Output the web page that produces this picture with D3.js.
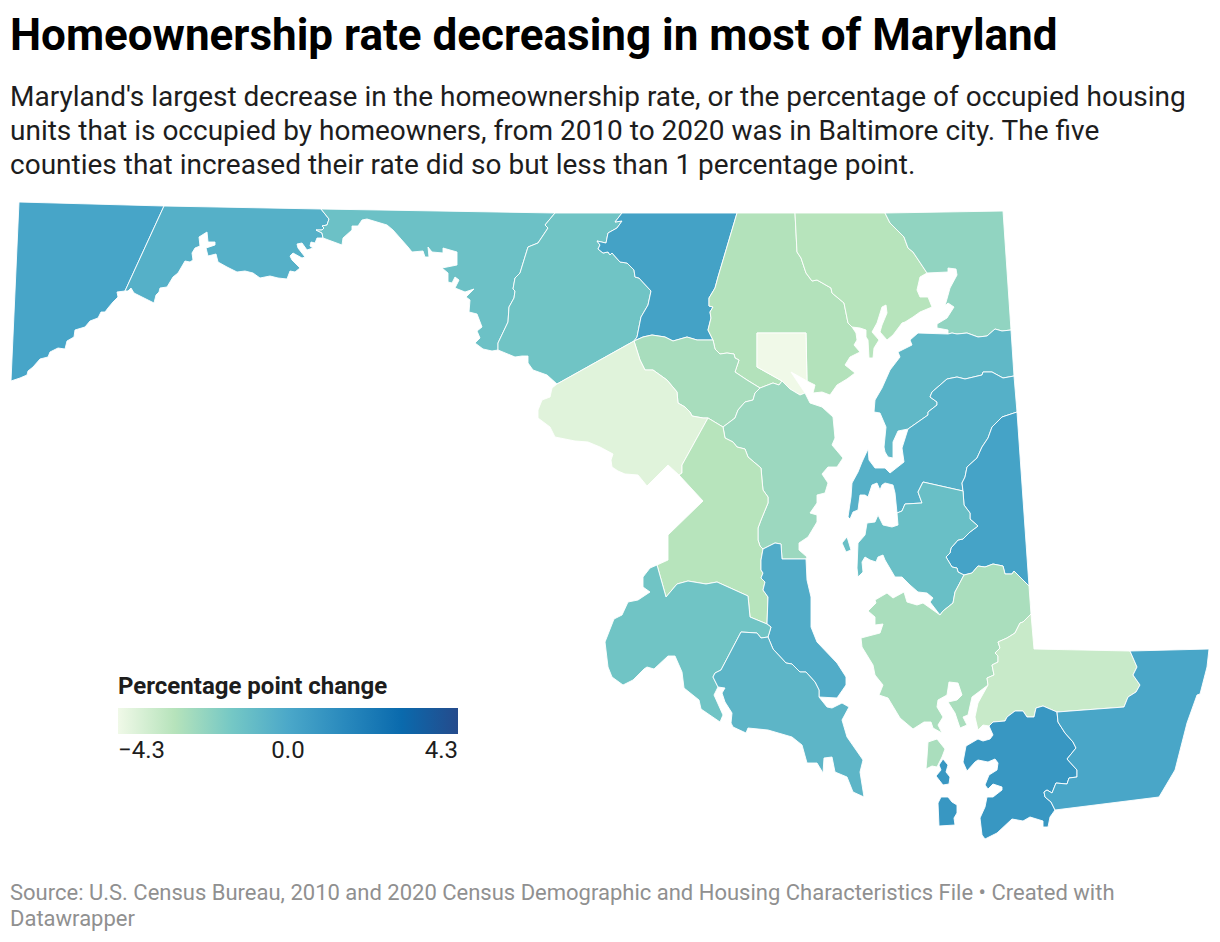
<!DOCTYPE html>
<html><head><meta charset="utf-8">
<script src="https://cdn.jsdelivr.net/npm/d3@7"></script>
<style>html,body{margin:0;padding:0;background:#fff}svg{display:block}text{font-family:Roboto,sans-serif}</style>
</head><body><div id="chart"></div>
<script>
// ---- text ----
const titleText = "Homeownership rate decreasing in most of Maryland";
const subtitleLines = [
  "Maryland's largest decrease in the homeownership rate, or the percentage of occupied housing",
  "units that is occupied by homeowners, from 2010 to 2020 was in Baltimore city. The five",
  "counties that increased their rate did so but less than 1 percentage point."];
const sourceLines = [
  "Source: U.S. Census Bureau, 2010 and 2020 Census Demographic and Housing Characteristics File \u2022 Created with",
  "Datawrapper"];
const legendTitle = "Percentage point change";
const legendTicks = [-4.3, 0, 4.3];

// ---- data: percentage point change by county ----
const counties = ["Garrett","Allegany","Washington","Frederick","Carroll","Baltimore","Harford","Cecil","Baltimore city","Howard","Anne Arundel","Montgomery","Prince George's","Calvert","Charles","St. Mary's","Kent","Queen Anne's","Caroline","Talbot","Dorchester","Wicomico","Somerset","Worcester"];
const changes   = [0.15,-0.35,-1.13,-1.26,0.3,-2.8,-2.9,-2.05,-4.3,-2.55,-2.3,-3.9,-2.9,-0.2,-1.26,-0.6,-0.72,-0.35,0.25,-1.02,-2.6,-3.3,0.8,0.1];
const colorStops = ["#f0f9e8","#b6e3bb","#75c8c5","#4ba8c9","#2989bd","#0a6aad","#254b8c"];

// ---- map geometry (map-plane coordinates), shared county borders ----
const garAll=[[164,206],[125,291]];
const garCoast=[[117,292],[118,297],[113,302],[108,308],[105,312],[101,312],[98,318],[90,321],[85,327],[75,330],[74,337],[67,341],[65,349],[58,348],[50,352],[48,357],[40,359],[33,367],[28,371],[27,375],[20,378],[11,381]];
const allWash=[[321,209],[329,219],[327,225],[322,226],[324,228],[322,230],[316,230],[322,233],[323,238]];
const allCoast=[[317,238],[315,243],[311,242],[310,246],[313,248],[307,250],[302,243],[297,244],[298,248],[305,257],[302,258],[293,253],[290,256],[292,260],[300,268],[295,272],[290,271],[287,279],[278,278],[270,276],[260,278],[253,273],[245,271],[237,272],[227,267],[218,262],[216,254],[208,256],[206,248],[215,245],[215,242],[208,242],[207,232],[199,237],[200,246],[195,248],[192,253],[193,260],[190,262],[185,261],[178,273],[173,277],[167,287],[160,288],[159,292],[156,295],[154,303],[140,296],[134,293],[131,288],[128,291],[125,291]];
const washFred=[[555,213],[545,225],[548,228],[538,243],[528,247],[520,273],[515,278],[513,289],[515,291],[514,298],[509,307],[508,322],[498,343],[498,350]];
const washCoast=[[342,245],[343,238],[352,230],[352,226],[358,226],[362,220],[367,219],[387,225],[393,230],[408,247],[412,252],[423,251],[425,257],[429,257],[428,247],[432,252],[443,253],[443,248],[457,252],[457,265],[442,268],[448,273],[448,282],[452,283],[455,277],[459,280],[455,288],[465,292],[474,289],[466,297],[470,300],[469,312],[477,314],[482,327],[477,331],[480,338],[475,343],[483,349],[492,351],[498,350]];
const fredCarr=[[622,213],[615,222],[622,221],[617,228],[608,233],[606,243],[597,241],[600,245],[598,249],[603,253],[608,252],[610,255],[612,253],[620,262],[627,263],[634,270],[635,277],[639,278],[651,291],[648,305],[641,317],[637,337],[634,341]];
const fredMont=[[634,341],[557,384]];
const fredCoast=[[498,350],[515,357],[522,356],[528,356],[528,363],[533,370],[547,375],[557,384]];
const carrBalt=[[737,213],[718,277],[715,288],[709,298],[709,306],[713,307],[710,312],[711,318],[708,330],[713,340]];
const carrHow=[[713,340],[697,340],[687,337],[673,341],[665,337],[652,335],[643,337],[634,341]];
const howBalt=[[713,340],[715,349],[720,354],[727,353],[734,354],[735,358],[739,360],[735,372],[747,380],[760,388]];
const howAA=[[760,388],[755,393],[753,400],[745,402],[738,410],[735,418],[723,427]];
const howMont=[[708,418],[703,418],[692,416],[690,412],[685,407],[678,403],[677,392],[667,380],[653,370],[645,370],[640,360],[634,341]];
const pgHow=[[708,418],[723,427]];
const montPG=[[708,418],[682,465],[682,473],[679,475]];
const montCoast=[[557,384],[552,388],[550,397],[542,400],[538,410],[538,418],[550,427],[555,437],[575,441],[588,442],[600,447],[613,454],[611,460],[612,467],[618,471],[625,474],[638,475],[647,486],[668,465]];
const pgCoast=[[679,475],[703,501],[668,535],[668,560],[657,565]];
const pgCharles=[[767,624],[750,617],[748,596],[717,582],[706,584],[688,581],[677,584],[666,597],[657,565]];
const aaPG=[[723,427],[725,438],[733,442],[737,447],[745,449],[748,457],[761,468],[762,480],[763,490],[768,497],[768,503],[761,520],[758,528],[758,540],[760,546],[763,549]];
const calvAA=[[763,549],[775,543],[781,544],[782,559],[806,559]];
const calvPG=[[763,549],[761,560],[761,570],[763,573],[761,578],[765,582],[763,590],[768,597],[767,624]];
const calvCharles=[[767,624],[771,627],[768,637]];
const stmCalv=[[768,637],[773,649],[786,663],[792,664],[800,672],[806,672],[815,682],[819,690],[819,697]];
const calvCoast=[[806,559],[807,580],[811,597],[811,627],[817,642],[837,663],[846,677],[846,685],[837,698],[819,697]];
const charlesStm=[[718,687],[713,677],[715,673],[721,670],[741,632],[757,633],[761,638],[768,637]];
const charlesCoast=[[657,565],[650,568],[643,577],[643,587],[650,592],[638,600],[628,602],[622,615],[614,619],[605,642],[608,667],[612,677],[623,685],[633,680],[644,669],[647,667],[654,669],[668,656],[675,656],[682,672],[684,688],[699,700],[701,709],[720,722],[723,715],[714,695],[718,687]];
const stmCoast=[[819,697],[827,707],[832,708],[842,703],[849,707],[842,720],[847,737],[863,760],[860,772],[864,797],[853,792],[847,777],[835,772],[832,757],[824,758],[823,773],[817,763],[807,763],[802,745],[792,737],[768,730],[748,728],[746,733],[733,727],[731,723],[732,713],[725,702],[722,693],[725,688]];
const aaNorth=[[760,388],[773,383],[779,385],[782,381],[790,389],[800,395],[805,393]];
const aaCoast=[[805,393],[810,403],[822,407],[833,417],[835,438],[832,445],[843,458],[837,467],[828,467],[822,474],[828,483],[825,493],[817,495],[817,503],[810,513],[817,515],[817,522],[808,537],[799,543],[799,550],[807,557],[806,559]];
const cityRing=[[757,333],[806,333],[807,381],[800,377],[791,372],[797,381],[805,393],[800,395],[790,389],[782,381],[757,367]];
const baltHarf=[[795,213],[797,252],[801,258],[806,273],[812,281],[817,280],[831,288],[832,293],[844,303],[848,323],[852,327]];
const baltCoast=[[852,327],[856,333],[857,340],[854,345],[860,352],[850,357],[845,365],[855,373],[847,379],[837,385],[830,395],[822,392],[813,393],[815,385],[807,381]];
const baltCity=[[806,333],[757,333],[757,367],[782,381],[779,385],[773,383],[760,388]];
const harfCoast=[[852,327],[860,328],[866,330],[866,337],[868,340],[869,358],[873,358],[874,348],[879,340],[872,332],[877,323],[882,307],[886,305],[887,313],[882,325],[880,332],[887,340],[893,335],[902,323],[905,322],[913,317],[920,312],[932,307],[928,297],[920,297],[917,290],[920,277],[927,273]];
const harfCecil=[[885,213],[890,223],[904,237],[908,248],[913,252],[927,273]];
const cecilCoast=[[927,273],[948,272],[948,268],[956,269],[957,275],[950,288],[945,306],[948,303],[954,307],[947,318],[937,324],[937,328],[948,330],[948,334]];
const cecilKent=[[1011,330],[1002,331],[995,329],[987,336],[978,337],[967,333],[957,334],[952,333],[948,334]];
const kentQA=[[1014,376],[1003,378],[992,372],[983,372],[982,375],[965,379],[957,377],[947,379],[932,392],[930,397],[937,402],[937,405],[928,412],[928,415],[918,422],[908,429]];
const kentCoast=[[908,429],[898,431],[893,442],[893,458],[888,457],[885,452],[884,447],[886,427],[880,413],[874,412],[875,400],[882,388],[890,370],[900,357],[898,352],[912,345],[910,340],[918,333],[948,334]];
const qaCar=[[1017,412],[1002,417],[992,427],[988,438],[982,447],[977,458],[967,467],[965,477],[962,483],[963,491]];
const qaTal=[[963,491],[923,482],[918,492],[922,503],[905,504],[902,511],[897,513]];
const qaCoast=[[895,493],[893,485],[885,483],[882,485],[880,490],[877,483],[872,485],[868,497],[865,495],[860,495],[858,510],[853,512],[850,519],[848,517],[851,497],[852,483],[858,472],[862,462],[868,449],[869,460],[875,468],[885,468],[890,473],[904,462],[902,448]];
const carDor=[[1029,586],[1014,571],[1012,574],[1005,574],[1003,566],[993,564],[985,567],[978,566],[972,573],[964,575]];
const carTal=[[964,575],[958,572],[957,568],[952,567],[946,557],[950,553],[951,548],[958,540],[963,539],[970,532],[978,526],[970,519],[970,513],[964,505],[963,491]];
const talDor=[[964,575],[955,592],[953,603],[943,611],[940,615]];
const talCoast=[[930,602],[933,598],[927,593],[918,592],[910,585],[902,577],[895,577],[885,560],[883,555],[878,557],[876,562],[870,560],[865,557],[862,562],[863,572],[858,577],[857,568],[858,543],[865,535],[867,523],[875,522],[878,515],[883,525],[892,527],[898,525]];
const talIsland=[[842,543],[847,537],[848,540],[851,550],[846,552]];
const dorCoast=[[923,603],[917,605],[907,602],[904,592],[893,598],[887,593],[875,600],[876,603],[868,611],[875,617],[875,625],[883,624],[880,633],[861,638],[862,647],[873,665],[875,675],[883,685],[879,695],[888,698],[900,718],[913,729],[924,722],[931,722],[933,728],[942,733],[938,725],[943,717],[937,707],[938,700],[947,695],[949,682],[958,683],[962,695],[957,700],[948,702],[955,713],[960,728],[967,725],[963,717],[968,715],[972,697],[988,685]];
const dorIsland=[[928,742],[937,739],[945,749],[942,757],[937,767],[932,766],[926,769],[927,757]];
const dorWic=[[988,685],[987,678],[994,675],[992,665],[998,662],[998,656],[995,653],[1000,648],[998,642],[1007,638],[1015,633],[1020,623],[1023,622],[1031,614]];
const wicWor=[[1130,651],[1137,667],[1133,675],[1140,685],[1136,692],[1128,697],[1124,707],[1057,712]];
const wicSom=[[1057,712],[1043,706],[1036,708],[1034,717],[1027,717],[1023,711],[1015,711],[1007,717],[1005,721],[993,722],[989,726]];
const wicCoast=[[989,726],[983,725],[978,730],[975,717],[978,703],[988,685]];
const somCoast=[[989,726],[993,735],[990,739],[983,741],[978,739],[966,746],[963,762],[967,771],[975,762],[978,760],[988,762],[995,759],[998,763],[997,770],[989,775],[985,785],[988,789],[993,784],[1002,787],[1002,790],[993,797],[987,797],[985,807],[980,818],[982,835],[985,839],[997,833],[1012,819],[1023,821],[1030,817],[1043,821],[1043,827],[1048,827],[1050,817],[1055,810]];
const somWor=[[1055,810],[1051,802],[1045,797],[1044,792],[1047,790],[1052,793],[1056,783],[1067,784],[1069,778],[1077,777],[1077,770],[1067,759],[1076,748],[1073,742],[1065,733],[1058,722],[1057,712]];
const somSmith=[[939,826],[938,803],[941,797],[948,797],[952,802],[957,805],[957,813],[954,818],[955,825]];
const somDeal=[[943,759],[948,765],[946,772],[950,777],[949,784],[943,785],[936,776],[941,770],[939,765]];
const worCoast=[[1159,797],[1175,770],[1187,723],[1197,695],[1200,694],[1207,667],[1209,649]];

const rev=a=>[...a].reverse();
const shapes={
 "Garrett":[[[19,202],...garAll,...garCoast]],
 "Allegany":[[[164,206],...allWash,...allCoast]],
 "Washington":[[...allWash,...washCoast,...rev(washFred)]],
 "Frederick":[[...washFred,...fredCoast,...rev(fredMont),...rev(fredCarr)]],
 "Carroll":[[...carrBalt,...carrHow,...rev(fredCarr)]],
 "Baltimore":[[...baltHarf,...baltCoast,...baltCity,...rev(howBalt),...rev(carrBalt)]],
 "Harford":[[...baltHarf,...harfCoast,...rev(harfCecil)]],
 "Cecil":[[[885,213],[1003,211],...cecilKent,...rev(cecilCoast),...rev(harfCecil)]],
 "Baltimore city":[cityRing],
 "Howard":[[...carrHow,...rev(howMont),...pgHow,...rev(howAA),...rev(howBalt)]],
 "Anne Arundel":[[...aaNorth,...aaCoast,...rev(calvAA),...rev(aaPG),...rev(howAA)]],
 "Montgomery":[[...howMont,...fredMont,...montCoast,...rev(montPG)]],
 "Prince George's":[[...montPG,...pgCoast,...rev(pgCharles),...rev(calvPG),...rev(aaPG),...rev(pgHow)]],
 "Calvert":[[...calvAA,...calvCoast,...rev(stmCalv),...rev(calvCharles),...rev(calvPG)]],
 "Charles":[[...charlesCoast,...charlesStm,...rev(calvCharles),...pgCharles]],
 "St. Mary's":[[...charlesStm,...stmCalv,...stmCoast]],
 "Kent":[[...rev(cecilKent),...kentQA,...kentCoast]],
 "Queen Anne's":[[...rev(kentQA),...qaCar,...qaTal,...qaCoast]],
 "Caroline":[[...rev(qaCar),...carDor,...carTal]],
 "Talbot":[[...rev(qaTal),...rev(carTal),...talDor,...talCoast],talIsland],
 "Dorchester":[[...carDor,...talDor,...dorCoast,...dorWic],dorIsland],
 "Wicomico":[[...dorWic,[1034,649],...wicWor,...wicSom,...wicCoast]],
 "Somerset":[[...somCoast,...somWor,...wicSom],somSmith,somDeal],
 "Worcester":[[...wicWor,...rev(somWor),...worCoast]]
};

// ---- drawing ----
const W=1220,H=942;
const svg=d3.select("#chart").append("svg").attr("width",W).attr("height",H);
svg.append("rect").attr("width",W).attr("height",H).attr("fill","#fff");

const color=d3.scaleLinear()
  .domain(d3.quantize(d3.interpolate(-4.3,4.3),colorStops.length))
  .range(colorStops).interpolate(d3.interpolateRgb);

const closeRing=r=>[...r,r[0]];
const features=counties.map((name,i)=>({type:"Feature",properties:{name,value:changes[i]},
  geometry:{type:"MultiPolygon",coordinates:shapes[name].map(r=>[closeRing(r)])}}));
const path=d3.geoPath(d3.geoIdentity());

svg.append("g").selectAll("path").data(features).join("path")
  .attr("d",path)
  .attr("fill",d=>color(d.properties.value))
  .attr("stroke","#fff").attr("stroke-width",0.9).attr("stroke-linejoin","round");

// title block
svg.append("text").attr("x",10).attr("y",50).attr("font-size",44).attr("font-weight",700).attr("fill","#000").text(titleText);
svg.append("g").selectAll("text").data(subtitleLines).join("text")
  .attr("x",10).attr("y",(d,i)=>106+i*34).attr("font-size",28).attr("fill","#1d1d1d").text(d=>d);

// legend
const lx=d3.scaleLinear().domain([-4.3,4.3]).range([118,458]);
const grad=svg.append("defs").append("linearGradient").attr("id","lg");
colorStops.forEach((c,i)=>grad.append("stop").attr("offset",i/(colorStops.length-1)).attr("stop-color",c));
svg.append("text").attr("x",118).attr("y",694).attr("font-size",24).attr("font-weight",700).attr("fill","#1d1d1d").text(legendTitle);
svg.append("rect").attr("x",lx(-4.3)).attr("y",708).attr("width",lx(4.3)-lx(-4.3)).attr("height",26).attr("fill","url(#lg)");
const fmt=v=>v.toFixed(1).replace("-","\u2212");
svg.append("g").selectAll("text").data(legendTicks).join("text")
  .attr("x",d=>lx(d)).attr("y",758).attr("font-size",24).attr("fill","#1d1d1d")
  .attr("text-anchor",(d,i)=>i==0?"start":i==legendTicks.length-1?"end":"middle").text(fmt);

// footer
svg.append("g").selectAll("text").data(sourceLines).join("text")
  .attr("x",10).attr("y",(d,i)=>900+i*26).attr("font-size",22).attr("fill","#909090").text(d=>d);
</script></body></html>
